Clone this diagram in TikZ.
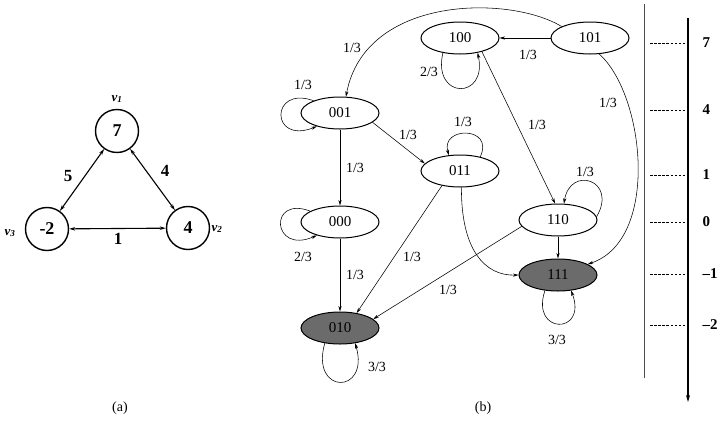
\documentclass[tikz,border=0pt]{standalone}
\usepackage{fontspec}
\setmainfont{Liberation Serif}
\usetikzlibrary{shapes.geometric,arrows.meta}
\tikzset{
  state/.style={ellipse, draw, line width=1pt, minimum width=78pt, minimum height=32pt, inner sep=0pt, font=\fontsize{15}{15}\selectfont},
  shaded/.style={state, fill=black!58},
  edge/.style={line width=0.55pt, -{Stealth[length=5.5pt,width=3.2pt]}},
  lab/.style={font=\fontsize{14}{14}\selectfont, inner sep=1pt},
  vc/.style={circle, draw, line width=1.4pt, minimum size=43pt, inner sep=0pt, font=\fontsize{18}{18}\selectfont\bfseries},
  bi/.style={line width=1.1pt, {Stealth[length=6pt,width=3.5pt]}-{Stealth[length=6pt,width=3.5pt]}},
  wlab/.style={font=\fontsize{17}{17}\selectfont\bfseries, inner sep=1pt},
  vlab/.style={font=\fontsize{13}{13}\selectfont\bfseries\itshape, inner sep=0pt},
  tick/.style={line width=0.9pt, dash pattern=on 2.5pt off 1.6pt},
  axlab/.style={font=\fontsize{15}{15}\selectfont\bfseries}
}
\begin{document}
\begin{tikzpicture}[x=1pt,y=-1pt]
\useasboundingbox[fill=white] (0,0) rectangle (725,434);
% ---------- (a) ----------
\node[vc] (a1) at (117,131) {7};
\node[vc] (a2) at (47,229) {-2};
\node[vc] (a3) at (188,228) {4};
\node[vlab] (l1) at (117,99) {v\textsubscript{1}};
\node[vlab] (l2) at (10,233) {v\textsubscript{3}};
\node[vlab] (l3) at (217,229) {v\textsubscript{2}};
\draw[bi] (a2) -- (a1);
\draw[bi] (a3) -- (a1);
\draw[bi] (a2) -- (a3);
\node[wlab] (w1) at (68,176) {5};
\node[wlab] (w2) at (165,171) {4};
\node[wlab] (w3) at (118,239) {1};
\node[lab] (ca) at (120,408) {(a)};
% ---------- (b) ----------
\node[state] (n100) at (460,38) {100};
\node[state] (n101) at (590,38) {101};
\node[state] (n001) at (340,113) {001};
\node[state] (n011) at (460,171) {011};
\node[state] (n000) at (340,222) {000};
\node[state] (n110) at (558,220) {110};
\node[shaded] (n111) at (558,275) {111};
\node[shaded] (n010) at (340,328) {010};

\draw[edge] (n101) -- (n100);
\node[lab] at (528,55) {1/3};
\draw[edge] (n101.158) .. controls (510,-5) and (365,-5) .. (n001.70);
\node[lab] at (352,48) {1/3};
\draw[edge] (n100.-139) .. controls (432,100) and (488,100) .. (n100.-40);
\node[lab] at (429,72) {2/3};
\draw[edge] (n100.-32) -- (n110.100);
\node[lab] at (537,125) {1/3};
\draw[edge] (n101.-60) .. controls (645,95) and (660,240) .. (n111.20);
\node[lab] at (608,103) {1/3};
\draw[edge] (n001.155) .. controls (270,85) and (270,145) .. (n001.-150);
\node[lab] at (303,85) {1/3};
\draw[edge] (n001.-16) -- (n011.168);
\node[lab] at (408,135) {1/3};
\draw[edge] (n001) -- (n000);
\node[lab] at (355,168) {1/3};
\draw[edge] (n011.35) .. controls (495,126) and (440,126) .. (n011.125);
\node[lab] at (463,122) {1/3};
\draw[edge] (n110.5) .. controls (618,180) and (570,165) .. (n110.70);
\node[lab] at (585,172) {1/3};
\draw[edge] (n000.160) .. controls (268,195) and (272,255) .. (n000.-150);
\node[lab] at (303,257) {2/3};
\draw[edge] (n011.-141) -- (n010.42);
\node[lab] at (412,257) {1/3};
\draw[edge] (n110.190) -- (n010.15);
\node[lab] at (448,290) {1/3};
\draw[edge] (n000) -- (n010);
\node[lab] at (355,275) {1/3};
\draw[edge] (n011.-85) .. controls (461,250) and (485,276) .. (n111.west);
\draw[edge] (n110) -- (n111);
\draw[edge] (n010.-135) .. controls (310,395) and (370,395) .. (n010.-45);
\node[lab] at (377,367) {3/3};
\draw[edge] (n111.-130) .. controls (530,335) and (588,335) .. (n111.-50);
\node[lab] at (557,340) {3/3};
\node[lab] (cb) at (483,408) {(b)};
% ---------- axis ----------
\coordinate (d1) at (644,4);
\coordinate (d2) at (644,378);
\draw[line width=0.6pt, black!70] (d1) -- (d2);
\coordinate (ax1) at (688,18);
\coordinate (ax2) at (688,402);
\draw[line width=1.2pt, -{Stealth[length=7pt,width=4pt]}] (ax1) -- (ax2);
\foreach \yy/\tt in {43/7, 110/4, 175/1, 222/0, 274/\textendash1, 325/\textendash2}{
  \draw[tick] (650,\yy) -- (688,\yy);
  \node[axlab, anchor=west] at (699,\yy) {\tt};
}
\end{tikzpicture}
\end{document}
